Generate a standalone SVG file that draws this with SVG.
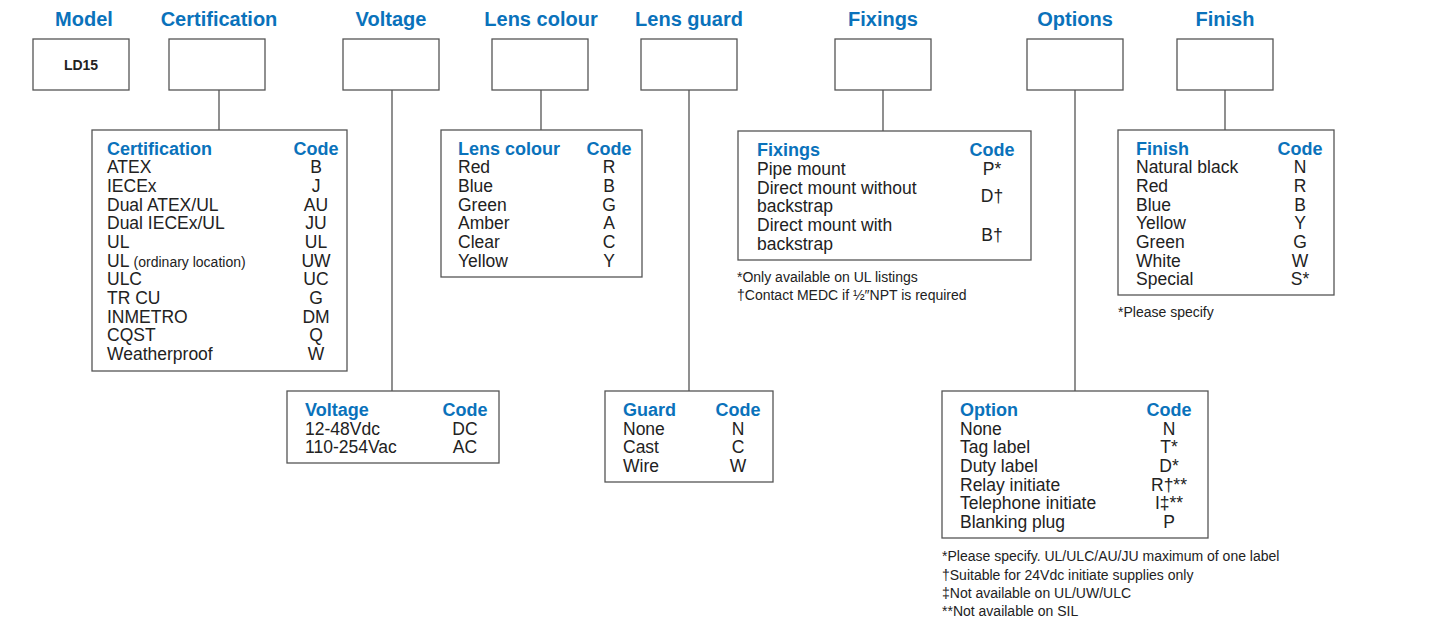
<svg xmlns="http://www.w3.org/2000/svg" width="1438" height="633" viewBox="0 0 1438 633">
<style>
text{font-family:"Liberation Sans",Arial,sans-serif}
.h{font-size:20px;font-weight:bold;fill:#0a72bb;text-anchor:middle}
.th{font-size:18px;font-weight:bold;fill:#0a72bb}
.c{text-anchor:middle}
.t{font-size:17.5px;fill:#222}
.n{font-size:14px;fill:#222}
rect{fill:#fff;stroke:#555;stroke-width:1.3}
.l{stroke:#555;stroke-width:1.3;fill:none}
</style>
<rect x="0" y="0" width="1438" height="633" style="stroke:none"/>
<g id="headings">
<text class="h" x="84" y="26">Model</text>
<text class="h" x="219" y="26">Certification</text>
<text class="h" x="391" y="26">Voltage</text>
<text class="h" x="541" y="26">Lens colour</text>
<text class="h" x="689" y="26">Lens guard</text>
<text class="h" x="883" y="26">Fixings</text>
<text class="h" x="1075" y="26">Options</text>
<text class="h" x="1225" y="26">Finish</text>
</g>
<g id="connectors">
<path class="l" d="M219 90V130M392 90V391M541 90V130M689 90V391M883 90V131M1075 90V391M1225 90V130"/>
</g>
<g id="model"><rect x="33" y="39" width="96" height="51"/><text x="81" y="70" style="font-size:14px;font-weight:bold;fill:#222;text-anchor:middle">LD15</text></g>
<g id="cert-slot"><rect x="169" y="39" width="96" height="51"/></g>
<g id="voltage-slot"><rect x="343" y="39" width="96" height="51"/></g>
<g id="lens-slot"><rect x="492" y="39" width="96" height="51"/></g>
<g id="guard-slot"><rect x="641" y="39" width="96" height="51"/></g>
<g id="fixings-slot"><rect x="835" y="39" width="96" height="51"/></g>
<g id="options-slot"><rect x="1027" y="39" width="96" height="51"/></g>
<g id="finish-slot"><rect x="1177" y="39" width="96" height="51"/></g>

<g id="cert-table">
<rect x="92" y="130" width="255" height="241"/>
<text class="th" x="107" y="155">Certification</text><text class="th c" x="316" y="155">Code</text>
<g class="t">
<text x="107" y="173">ATEX</text><text class="c" x="316" y="173">B</text>
<text x="107" y="192">IECEx</text><text class="c" x="316" y="192">J</text>
<text x="107" y="211">Dual ATEX/UL</text><text class="c" x="316" y="211">AU</text>
<text x="107" y="229">Dual IECEx/UL</text><text class="c" x="316" y="229">JU</text>
<text x="107" y="248">UL</text><text class="c" x="316" y="248">UL</text>
<text x="107" y="267">UL <tspan style="font-size:14px">(ordinary location)</tspan></text><text class="c" x="316" y="267">UW</text>
<text x="107" y="285">ULC</text><text class="c" x="316" y="285">UC</text>
<text x="107" y="304">TR CU</text><text class="c" x="316" y="304">G</text>
<text x="107" y="323">INMETRO</text><text class="c" x="316" y="323">DM</text>
<text x="107" y="341">CQST</text><text class="c" x="316" y="341">Q</text>
<text x="107" y="360">Weatherproof</text><text class="c" x="316" y="360">W</text>
</g></g>

<g id="lens-table">
<rect x="441" y="130" width="201" height="147"/>
<text class="th" x="458" y="155">Lens colour</text><text class="th c" x="609" y="155">Code</text>
<g class="t">
<text x="458" y="173">Red</text><text class="c" x="609" y="173">R</text>
<text x="458" y="192">Blue</text><text class="c" x="609" y="192">B</text>
<text x="458" y="211">Green</text><text class="c" x="609" y="211">G</text>
<text x="458" y="229">Amber</text><text class="c" x="609" y="229">A</text>
<text x="458" y="248">Clear</text><text class="c" x="609" y="248">C</text>
<text x="458" y="267">Yellow</text><text class="c" x="609" y="267">Y</text>
</g></g>

<g id="voltage-table">
<rect x="287" y="391" width="212" height="72"/>
<text class="th" x="305" y="416">Voltage</text><text class="th c" x="465" y="416">Code</text>
<g class="t">
<text x="305" y="435">12-48Vdc</text><text class="c" x="465" y="435">DC</text>
<text x="305" y="453">110-254Vac</text><text class="c" x="465" y="453">AC</text>
</g></g>

<g id="guard-table">
<rect x="605" y="391" width="168" height="91"/>
<text class="th" x="623" y="416">Guard</text><text class="th c" x="738" y="416">Code</text>
<g class="t">
<text x="623" y="435">None</text><text class="c" x="738" y="435">N</text>
<text x="623" y="453">Cast</text><text class="c" x="738" y="453">C</text>
<text x="623" y="472">Wire</text><text class="c" x="738" y="472">W</text>
</g></g>

<g id="fixings-table">
<rect x="738" y="131" width="293" height="129"/>
<text class="th" x="757" y="156">Fixings</text><text class="th c" x="992" y="156">Code</text>
<g class="t">
<text x="757" y="175">Pipe mount</text><text class="c" x="992" y="175">P*</text>
<text x="757" y="194">Direct mount without</text>
<text x="757" y="212">backstrap</text><text class="c" x="992" y="202">D†</text>
<text x="757" y="231">Direct mount with</text>
<text x="757" y="250">backstrap</text><text class="c" x="992" y="241">B†</text>
</g>
<text class="n" x="737" y="282">*Only available on UL listings</text>
<text class="n" x="737" y="300">†Contact MEDC if ½″NPT is required</text>
</g>

<g id="options-table">
<rect x="942" y="391" width="266" height="147"/>
<text class="th" x="960" y="416">Option</text><text class="th c" x="1169" y="416">Code</text>
<g class="t">
<text x="960" y="435">None</text><text class="c" x="1169" y="435">N</text>
<text x="960" y="453">Tag label</text><text class="c" x="1169" y="453">T*</text>
<text x="960" y="472">Duty label</text><text class="c" x="1169" y="472">D*</text>
<text x="960" y="491">Relay initiate</text><text class="c" x="1169" y="491">R†**</text>
<text x="960" y="509">Telephone initiate</text><text class="c" x="1169" y="509">I‡**</text>
<text x="960" y="528">Blanking plug</text><text class="c" x="1169" y="528">P</text>
</g>
<text class="n" x="942" y="561">*Please specify. UL/ULC/AU/JU maximum of one label</text>
<text class="n" x="942" y="580">†Suitable for 24Vdc initiate supplies only</text>
<text class="n" x="942" y="598">‡Not available on UL/UW/ULC</text>
<text class="n" x="942" y="616">**Not available on SIL</text>
</g>

<g id="finish-table">
<rect x="1118" y="130" width="216" height="165"/>
<text class="th" x="1136" y="155">Finish</text><text class="th c" x="1300" y="155">Code</text>
<g class="t">
<text x="1136" y="173">Natural black</text><text class="c" x="1300" y="173">N</text>
<text x="1136" y="192">Red</text><text class="c" x="1300" y="192">R</text>
<text x="1136" y="211">Blue</text><text class="c" x="1300" y="211">B</text>
<text x="1136" y="229">Yellow</text><text class="c" x="1300" y="229">Y</text>
<text x="1136" y="248">Green</text><text class="c" x="1300" y="248">G</text>
<text x="1136" y="267">White</text><text class="c" x="1300" y="267">W</text>
<text x="1136" y="285">Special</text><text class="c" x="1300" y="285">S*</text>
</g>
<text class="n" x="1118" y="317">*Please specify</text>
</g>
</svg>
